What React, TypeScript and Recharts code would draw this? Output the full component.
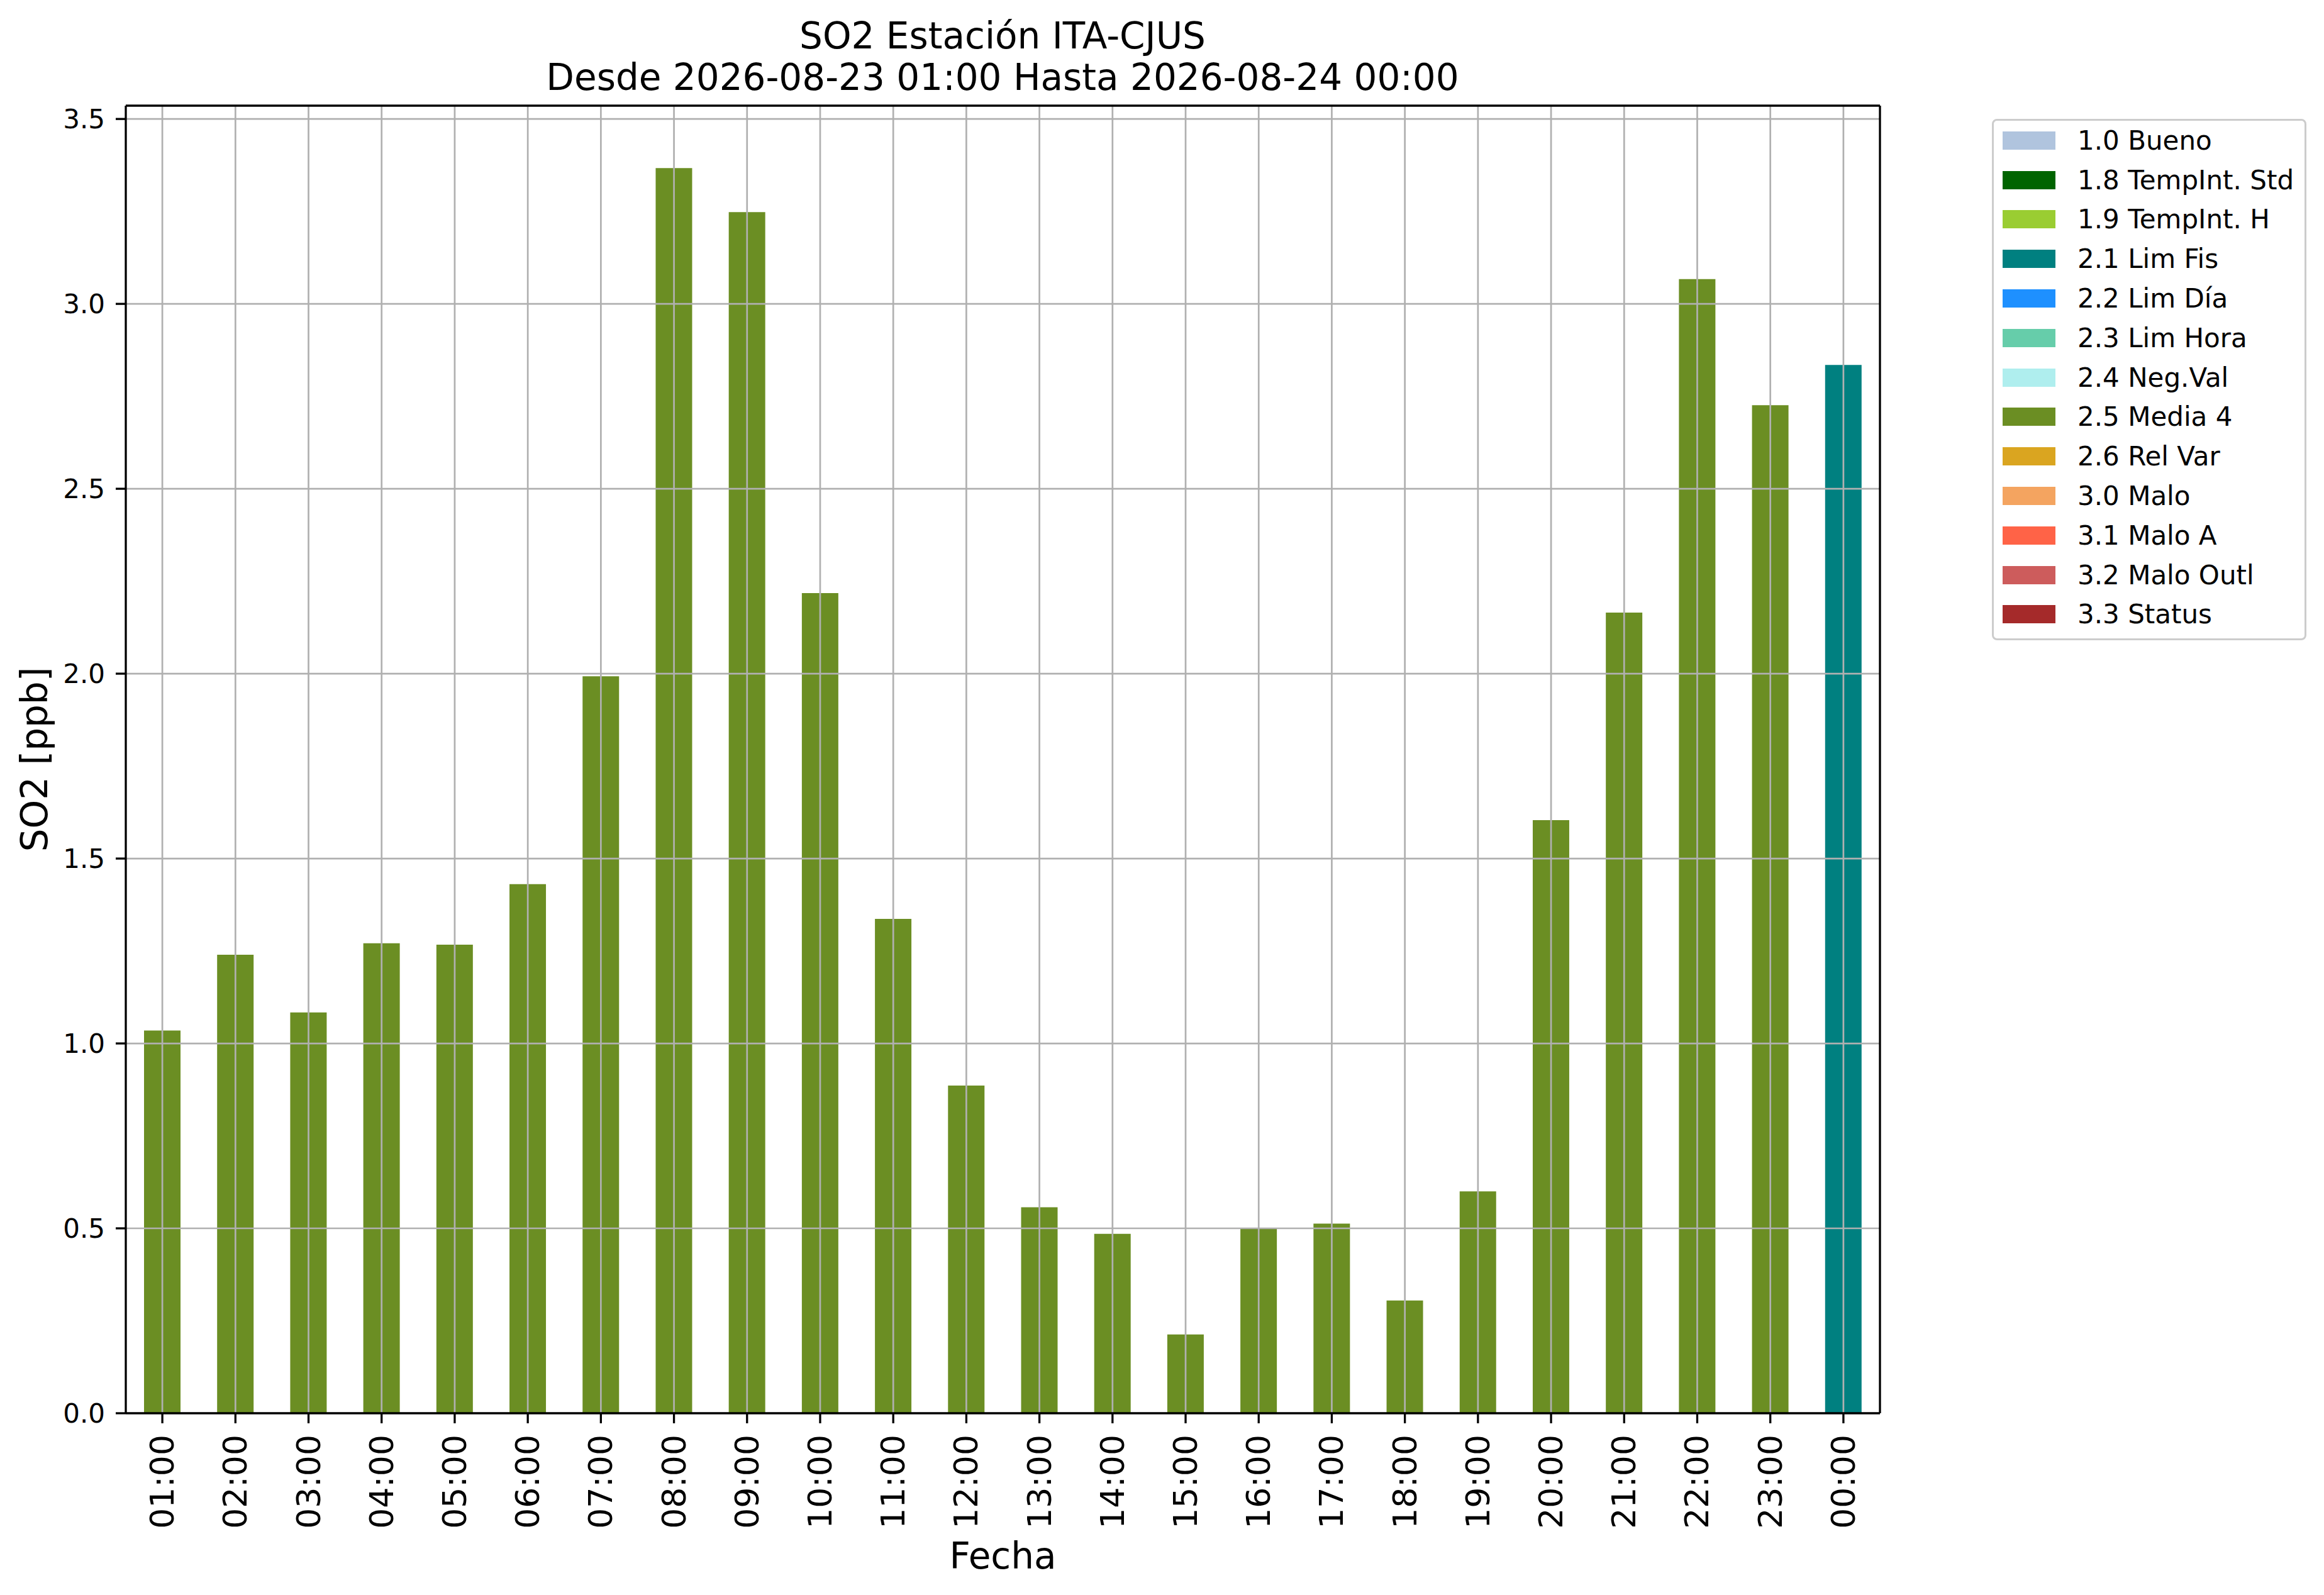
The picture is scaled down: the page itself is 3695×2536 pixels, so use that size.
import React from 'react'
import {
  BarChart,
  Bar,
  XAxis,
  YAxis,
  Legend,
  ReferenceLine,
} from 'recharts'

const HOURS = [
  '01:00', '02:00', '03:00', '04:00', '05:00', '06:00', '07:00', '08:00',
  '09:00', '10:00', '11:00', '12:00', '13:00', '14:00', '15:00', '16:00',
  '17:00', '18:00', '19:00', '20:00', '21:00', '22:00', '23:00', '00:00',
]

// SO2 [ppb] per hour, flagged 2.5 Media 4
const MEDIA_4 = [
  1.035, 1.24, 1.084, 1.271, 1.267, 1.431, 1.993, 3.367,
  3.248, 2.218, 1.337, 0.886, 0.557, 0.485, 0.213, 0.5,
  0.513, 0.305, 0.6, 1.604, 2.165, 3.067, 2.726, null,
]

// flagged 2.1 Lim Fis (only the last hour)
const LIM_FIS = [
  null, null, null, null, null, null, null, null,
  null, null, null, null, null, null, null, null,
  null, null, null, null, null, null, null, 2.835,
]

const FLAG_NAMES = [
  '1.0 Bueno', '1.8 TempInt. Std', '1.9 TempInt. H', '2.1 Lim Fis',
  '2.2 Lim Día', '2.3 Lim Hora', '2.4 Neg.Val', '2.5 Media 4',
  '2.6 Rel Var', '3.0 Malo', '3.1 Malo A', '3.2 Malo Outl', '3.3 Status',
]

const FLAG_COLORS = [
  '#b0c4de', '#006400', '#9acd32', '#008080',
  '#1e90ff', '#66cdaa', '#afeeee', '#6b8e23',
  '#daa520', '#f4a460', '#ff6347', '#cd5c5c', '#a52a2a',
]

const Y_TICKS = [0, 0.5, 1.0, 1.5, 2.0, 2.5, 3.0, 3.5]
const Y_MAX = 3.536

const FONT = 'DejaVu Sans'

// one row per hour, one column per flag
const data = HOURS.map((hour, i) => {
  const row: Record<string, string | number | null> = { hour }
  FLAG_NAMES.forEach((f) => { row[f] = null })
  row['2.5 Media 4'] = MEDIA_4[i]
  row['2.1 Lim Fis'] = LIM_FIS[i]
  return row
})

function XTick({ x, y, payload }: any) {
  return (
    <text
      x={x}
      y={y}
      transform={`rotate(-90, ${x}, ${y})`}
      textAnchor="end"
      dominantBaseline="central"
      fontSize={52}
      fill="#000"
    >
      {payload.value}
    </text>
  )
}

function YLabel({ viewBox }: any) {
  const cx = 75
  const cy = viewBox.y + viewBox.height / 2
  return (
    <text x={cx} y={cy} transform={`rotate(-90, ${cx}, ${cy})`} textAnchor="middle" fontSize={58} fill="#000">
      SO2 [ppb]
    </text>
  )
}

function LegendBox({ payload }: any) {
  return (
    <div
      style={{
        boxSizing: 'border-box',
        width: 500,
        height: 829,
        border: '3px solid #cccccc',
        borderRadius: 8,
        background: '#fff',
        paddingLeft: 14,
      }}
    >
      {(payload ?? []).map((p: any) => (
        <div key={p.value} style={{ height: 62.8, display: 'flex', alignItems: 'center' }}>
          <span style={{ width: 84, height: 29, background: p.color, marginRight: 35, flexShrink: 0 }} />
          <span style={{ fontSize: 42, color: '#000', whiteSpace: 'nowrap' }}>{p.value}</span>
        </div>
      ))}
    </div>
  )
}

export default function App() {
  const axisStroke = { stroke: '#000', strokeWidth: 3.3 }
  return (
    <div style={{ position: 'absolute', left: 0, top: 0, width: 3695, height: 2536, background: '#fff', fontFamily: FONT }}>
      <div
        style={{
          position: 'absolute',
          left: 0,
          top: 24,
          width: 3188,
          textAlign: 'center',
          fontSize: 58,
          lineHeight: '66px',
          color: '#000',
        }}
      >
        <div>SO2 Estación ITA-CJUS</div>
        <div>Desde 2026-08-23 01:00 Hasta 2026-08-24 00:00</div>
      </div>
      <BarChart
        width={3695}
        height={2536}
        data={data}
        margin={{ top: 167, right: 705, left: 0, bottom: 0 }}
        barSize={58}
      >
        {FLAG_NAMES.map((f, i) => (
          <Bar key={f} dataKey={f} name={f} stackId="flags" fill={FLAG_COLORS[i]} isAnimationActive={false} />
        ))}
        {Y_TICKS.filter((t) => t > 0).map((t) => (
          <ReferenceLine key={`y${t}`} y={t} stroke="#b0b0b0" strokeWidth={2.7} />
        ))}
        {HOURS.map((h) => (
          <ReferenceLine key={`x${h}`} x={h} stroke="#b0b0b0" strokeWidth={2.7} />
        ))}
        <XAxis
          dataKey="hour"
          height={289}
          interval={0}
          tick={<XTick />}
          tickSize={16}
          tickMargin={18}
          tickLine={axisStroke}
          axisLine={axisStroke}
          label={{ value: 'Fecha', position: 'insideBottom', offset: 42, fontSize: 58, fill: '#000' }}
        />
        <XAxis xAxisId="top" dataKey="hour" orientation="top" height={1} tick={false} tickLine={false} axisLine={axisStroke} />
        <YAxis
          domain={[0, Y_MAX]}
          ticks={Y_TICKS}
          width={200}
          tickSize={16}
          tickMargin={17}
          tickFormatter={(v: number) => v.toFixed(1)}
          tick={{ fill: '#000', fontSize: 42 }}
          tickLine={axisStroke}
          axisLine={axisStroke}
          label={<YLabel />}
        />
        <YAxis yAxisId="right" orientation="right" domain={[0, Y_MAX]} width={1} tick={false} tickLine={false} axisLine={axisStroke} />
        <Legend
          layout="horizontal"
          verticalAlign="middle"
          align="center"
          content={<LegendBox />}
          wrapperStyle={{ position: 'absolute', left: 3167, top: 189, width: 500, height: 829 }}
        />
      </BarChart>
    </div>
  )
}
